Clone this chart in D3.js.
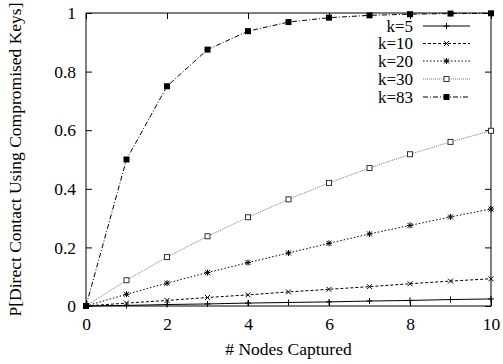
<!DOCTYPE html>
<html>
<head>
<meta charset="utf-8">
<script src="https://cdn.jsdelivr.net/npm/d3@7"></script>
<style>
  body { margin: 0; background: #fff; }
</style>
</head>
<body>
<div id="chart"></div>
<script>
// data
var nodes = [0, 1, 2, 3, 4, 5, 6, 7, 8, 9, 10]
var k5  = [0, 0.002, 0.005, 0.007, 0.010, 0.012, 0.014, 0.017, 0.019, 0.022, 0.024]
var k10 = [0, 0.010, 0.019, 0.029, 0.038, 0.048, 0.057, 0.066, 0.076, 0.085, 0.093]
var k20 = [0, 0.040, 0.078, 0.114, 0.148, 0.181, 0.214, 0.246, 0.275, 0.304, 0.331]
var k30 = [0, 0.088, 0.167, 0.238, 0.303, 0.364, 0.420, 0.471, 0.518, 0.560, 0.598]
var k83 = [0, 0.500, 0.750, 0.875, 0.938, 0.969, 0.984, 0.992, 0.996, 0.998, 0.999]
var seriesNames = ["k=5", "k=10", "k=20", "k=30", "k=83"]
var xTicks = [0, 2, 4, 6, 8, 10]
var yTicks = [0, 0.2, 0.4, 0.6, 0.8, 1]

var width = 503
var height = 364
var margin = {left: 86, right: 12, top: 13, bottom: 58}
var font = "font-family:'Liberation Serif';"

var svg = d3.select("#chart")
  .append("svg")
    .attr("width", width)
    .attr("height", height)

var x = d3.scaleLinear().domain([0, 10]).range([margin.left, width - margin.right])
var y = d3.scaleLinear().domain([0, 1]).range([height - margin.bottom, margin.top])

// line style + marker for each series
var styles = [
  {values: k5,  dash: null,      color: "#000", marker: "plus"},
  {values: k10, dash: "3,2",     color: "#000", marker: "cross"},
  {values: k20, dash: "1.5,2",   color: "#000", marker: "star"},
  {values: k30, dash: "1,1",     color: "#777", marker: "openSquare"},
  {values: k83, dash: "5,2,1,2", color: "#000", marker: "filledSquare"}
]

function drawMarker(g, type, cx, cy) {
  if (type == "plus") {
    g.append("path").attr("d", "M" + (cx - 3) + "," + cy + "h6M" + cx + "," + (cy - 3) + "v6")
      .attr("stroke", "#000").attr("stroke-width", 1)
  } else if (type == "cross") {
    g.append("path").attr("d", "M" + (cx - 2.5) + "," + (cy - 2.5) + "l5,5M" + (cx - 2.5) + "," + (cy + 2.5) + "l5,-5")
      .attr("stroke", "#000").attr("stroke-width", 1)
  } else if (type == "star") {
    g.append("path").attr("d", "M" + (cx - 3) + "," + cy + "h6M" + cx + "," + (cy - 3) + "v6M" +
        (cx - 2.5) + "," + (cy - 2.5) + "l5,5M" + (cx - 2.5) + "," + (cy + 2.5) + "l5,-5")
      .attr("stroke", "#000").attr("stroke-width", 1)
  } else if (type == "openSquare") {
    g.append("rect").attr("x", cx - 2.5).attr("y", cy - 2.5).attr("width", 5).attr("height", 5)
      .attr("fill", "#fff").attr("stroke", "#333").attr("stroke-width", 1)
  } else {
    g.append("rect").attr("x", cx - 3).attr("y", cy - 3).attr("width", 6).attr("height", 6)
      .attr("fill", "#000")
  }
}

// frame
svg.append("rect")
  .attr("x", x(0)).attr("y", y(1))
  .attr("width", x(10) - x(0)).attr("height", y(0) - y(1))
  .attr("fill", "none").attr("stroke", "#000").attr("stroke-width", 1)

// axes with inward ticks, mirrored on top and right
svg.append("g").attr("transform", "translate(0," + y(0) + ")")
  .call(d3.axisBottom(x).tickValues(xTicks).tickSizeInner(-6).tickSizeOuter(0).tickPadding(12).tickFormat(d3.format("d")))
svg.append("g").attr("transform", "translate(0," + y(1) + ")")
  .call(d3.axisTop(x).tickValues(xTicks).tickSizeInner(-6).tickSizeOuter(0).tickFormat(""))
svg.append("g").attr("transform", "translate(" + x(0) + ",0)")
  .call(d3.axisLeft(y).tickValues(yTicks).tickSizeInner(-6).tickSizeOuter(0).tickPadding(10).tickFormat(function(d) { return String(d) }))
svg.append("g").attr("transform", "translate(" + x(10) + ",0)")
  .call(d3.axisRight(y).tickValues(yTicks).tickSizeInner(-6).tickSizeOuter(0).tickFormat(""))

svg.selectAll(".domain").remove()
svg.selectAll(".tick line").attr("stroke", "#000")
svg.selectAll(".tick text")
  .attr("font-size", null)
  .attr("fill", "#000")
  .attr("style", font + "font-size:17.5px")

// axis titles
svg.append("text")
  .attr("x", (x(0) + x(10)) / 2).attr("y", 355)
  .attr("text-anchor", "middle")
  .attr("style", font + "font-size:17.5px")
  .text("# Nodes Captured")

svg.append("text")
  .attr("transform", "translate(21," + ((y(0) + y(1)) / 2) + ")rotate(-90)")
  .attr("text-anchor", "middle")
  .attr("style", font + "font-size:17.5px")
  .text("P[Direct Contact Using Compromised Keys]")

// lines and markers
var line = d3.line()
  .x(function(d, i) { return x(nodes[i]) })
  .y(function(d) { return y(d) })

styles.forEach(function(s) {
  svg.append("path")
    .datum(s.values)
    .attr("d", line)
    .attr("fill", "none")
    .attr("stroke", s.color)
    .attr("stroke-width", 1)
    .attr("stroke-dasharray", s.dash)
  var g = svg.append("g")
  s.values.forEach(function(v, i) {
    drawMarker(g, s.marker, x(nodes[i]), y(v))
  })
})

// legend
var legendY = [26, 43.5, 61, 79, 97]
styles.forEach(function(s, i) {
  var ly = legendY[i]
  svg.append("text")
    .attr("x", 413).attr("y", ly + 5.5)
    .attr("text-anchor", "end")
    .attr("style", font + "font-size:17px")
    .text(seriesNames[i])
  svg.append("line")
    .attr("x1", 423).attr("x2", 470).attr("y1", ly).attr("y2", ly)
    .attr("stroke", s.color).attr("stroke-width", 1)
    .attr("stroke-dasharray", s.dash)
  drawMarker(svg, s.marker, 446.5, ly)
})
</script>
</body>
</html>
